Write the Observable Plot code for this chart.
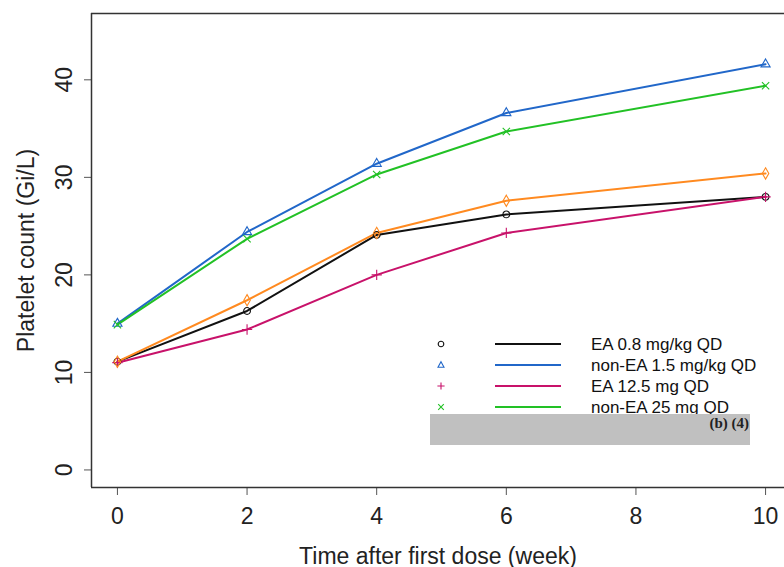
<!DOCTYPE html>
<html>
<head>
<meta charset="utf-8">
<script src="https://cdn.jsdelivr.net/npm/d3@7"></script>
<script src="https://cdn.jsdelivr.net/npm/@observablehq/plot@0.6"></script>
<style>
  body { margin: 0; background: #fff; }
  #wrap { position: relative; width: 784px; height: 567px; overflow: hidden; font-family: "Liberation Sans", Arial, sans-serif; }
  #legend { position: absolute; left: 0; top: 0; pointer-events: none; }
</style>
</head>
<body>
<div id="wrap"></div>
<script>
// ---- data ----
const weeks = [0, 2, 4, 6, 10];
const seriesNames = ["EA 0.8 mg/kg QD", "non-EA 1.5 mg/kg QD", "EA 12.5 mg QD", "non-EA 25 mg QD", "orange"];
const ea08    = [11.1, 16.3, 24.1, 26.2, 28.0];
const nonEa15 = [15.0, 24.4, 31.4, 36.6, 41.6];
const ea125   = [11.0, 14.4, 20.0, 24.3, 28.0];
const nonEa25 = [14.9, 23.7, 30.3, 34.7, 39.4];
const orange  = [11.1, 17.4, 24.3, 27.6, 30.4];
const seriesColors = ["#111111", "#2167c9", "#c8126a", "#22c125", "#ff8a20"];
const seriesSymbols = ["circle", "triangle", "plus", "times", "diamond"];
const xTicks = [0, 2, 4, 6, 8, 10];
const yTicks = [0, 10, 20, 30, 40];
const legendNames = ["EA 0.8 mg/kg QD", "non-EA 1.5 mg/kg QD", "EA 12.5 mg QD", "non-EA 25 mg QD"];
const redactionText = "(b) (4)";

const allValues = [ea08, nonEa15, ea125, nonEa25, orange];
const rows = [];
allValues.forEach((vals, s) => vals.forEach((v, i) => rows.push({series: seriesNames[s], week: weeks[i], value: v})));

const xDom = [-0.4, 10.4];
const yDom = [-1.8, 46.8];

const chart = Plot.plot({
  width: 784,
  height: 567,
  marginLeft: 91,
  marginRight: 0,
  marginTop: 13,
  marginBottom: 80,
  style: {fontFamily: "'Liberation Sans', Arial, sans-serif", background: "#fff", color: "#222"},
  x: {domain: xDom, range: [91, 791]},
  y: {domain: yDom, range: [487, 13]},
  color: {domain: seriesNames, range: seriesColors},
  symbol: {domain: seriesNames, range: seriesSymbols},
  marks: [
    Plot.axisX({ticks: xTicks, tickSize: 8, tickPadding: 12, fontSize: 23, stroke: "#555",
      label: "Time after first dose (week)", labelAnchor: "center", labelArrow: "none", labelOffset: 76}),
    Plot.axisY({ticks: yTicks, tickSize: 7, tickPadding: 13, fontSize: 23, tickRotate: -90, stroke: "#555",
      label: "Platelet count (Gi/L)", labelAnchor: "center", labelArrow: "none", labelOffset: 74}),
    Plot.ruleX([xDom[0]], {stroke: "#333", strokeWidth: 1.5}),
    Plot.ruleY([yDom[0], yDom[1]], {stroke: "#333", strokeWidth: 1.5}),
    Plot.line(rows, {x: "week", y: "value", z: "series", stroke: "series", strokeWidth: 2}),
    Plot.dot(rows, {x: "week", y: "value", stroke: "series", symbol: "series", r: 3.4, strokeWidth: 1.1, fill: "none"})
  ]
});
document.getElementById("wrap").appendChild(chart);

// ---- legend overlay ----
const ns = "http://www.w3.org/2000/svg";
const leg = document.createElementNS(ns, "svg");
leg.setAttribute("id", "legend");
leg.setAttribute("width", 784);
leg.setAttribute("height", 567);
const rowY = [344, 365, 386, 407];
const symPath = {
  circle: "M2.8,0A2.8,2.8 0 1,1 -2.8,0A2.8,2.8 0 1,1 2.8,0",
  triangle: "M0,-3.3L3,2.2L-3,2.2Z",
  plus: "M0,-3.6V3.6M-3.6,0H3.6",
  times: "M-2.8,-2.8L2.8,2.8M-2.8,2.8L2.8,-2.8"
};
legendNames.forEach((name, i) => {
  const y = rowY[i];
  const p = document.createElementNS(ns, "path");
  p.setAttribute("d", symPath[seriesSymbols[i]]);
  p.setAttribute("transform", `translate(441,${y})`);
  p.setAttribute("fill", "none");
  p.setAttribute("stroke", seriesColors[i]);
  p.setAttribute("stroke-width", 1.1);
  leg.appendChild(p);
  const l = document.createElementNS(ns, "line");
  l.setAttribute("x1", 495); l.setAttribute("x2", 561);
  l.setAttribute("y1", y); l.setAttribute("y2", y);
  l.setAttribute("stroke", seriesColors[i]); l.setAttribute("stroke-width", 2);
  leg.appendChild(l);
  const t = document.createElementNS(ns, "text");
  t.setAttribute("x", 591); t.setAttribute("y", y + 6);
  t.setAttribute("font-size", 17);
  t.setAttribute("font-family", "'Liberation Sans', Arial, sans-serif");
  t.setAttribute("fill", "#111");
  t.textContent = name;
  leg.appendChild(t);
});
const r = document.createElementNS(ns, "rect");
r.setAttribute("x", 430); r.setAttribute("y", 414);
r.setAttribute("width", 320); r.setAttribute("height", 31);
r.setAttribute("fill", "#c0c0c0");
leg.appendChild(r);
const rt = document.createElementNS(ns, "text");
rt.setAttribute("x", 749); rt.setAttribute("y", 428);
rt.setAttribute("text-anchor", "end");
rt.setAttribute("font-size", 15);
rt.setAttribute("font-weight", "bold");
rt.setAttribute("font-family", "'Liberation Serif', 'Times New Roman', serif");
rt.setAttribute("fill", "#222");
rt.textContent = redactionText;
leg.appendChild(rt);
document.getElementById("wrap").appendChild(leg);
</script>
</body>
</html>
